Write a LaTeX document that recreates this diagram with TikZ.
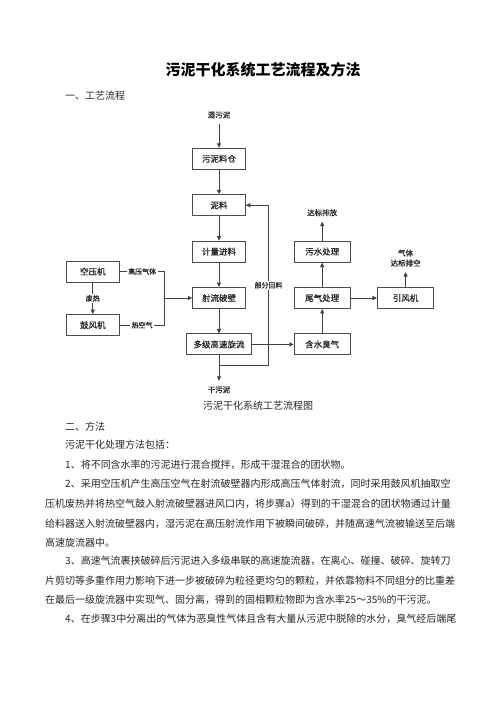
\documentclass[tikz,border=0pt]{standalone}
\usepackage{fontspec}
\setmainfont{Noto Sans CJK SC}
\newfontfamily\chartfont{Noto Sans CJK SC}[FakeBold=0.6]
\usetikzlibrary{positioning}
\usetikzlibrary{arrows.meta}

\tikzset{
  box/.style={draw=black!70, line width=0.9pt, fill=white, minimum width=52.6pt, minimum height=21pt,
    inner sep=0pt, font=\chartfont\fontsize{8.5pt}{10pt}\selectfont, text=black!85},
  lbl/.style={inner sep=1.5pt, font=\chartfont\fontsize{7pt}{8.5pt}\selectfont, text=black!85},
  term/.style={lbl, font=\chartfont\fontsize{7.5pt}{10pt}\selectfont, outer sep=4pt, align=center},
  arr/.style={draw=black!75, line width=0.9pt, -{Triangle[length=4.5pt,width=4pt]}},
  wire/.style={draw=black!75, line width=0.9pt},
  body/.style={anchor=west, inner sep=0pt, font=\fontsize{10pt}{12pt}\selectfont, text=black!85,
    text height=8.8pt, text depth=1.2pt},
}

\begin{document}
\begin{tikzpicture}[x=1pt, y=-1pt]
\useasboundingbox (0,0) rectangle (496,702);

\node[font=\fontsize{15pt}{18pt}\selectfont\bfseries] (title) at (263,70) {污泥干化系统工艺流程及方法};

% main line
\node[box] (silo) at (219,158.8) {污泥料仓};
\node[term, above=24pt of silo] (wet) {湿污泥};
\node[box, below=24.5pt of silo] (mix) {泥料};
\node[box, below=24.5pt of mix] (meter) {计量进料};
\node[box, below=24.5pt of meter] (jet) {射流破壁};
\node[box, below=24.5pt of jet, minimum width=65pt] (cyc) {多级高速旋流};
\node[term, below=25.5pt of cyc] (dry) {干污泥};

\draw[arr] (wet) -- (silo);
\draw[arr] (silo) -- (mix);
\draw[arr] (mix) -- (meter);
\draw[arr] (meter) -- (jet);
\draw[arr] (jet) -- (cyc);
\draw[arr] (cyc) -- (dry);

\coordinate[below=10pt of cyc] (ret-b);
\coordinate[right=49.5pt of ret-b] (ret-r);
\draw[arr] (ret-b) -- (ret-r) |- node[lbl, fill=white, pos=0.25] (back) {部分回料} (mix);

% air supply
\node[box, left=72.7pt of jet, yshift=26.5pt] (comp) {空压机};
\node[box, below=31.7pt of comp] (blower) {鼓风机};
\coordinate[left=27.5pt of jet] (merge);

\draw[arr] (comp) -- node[lbl, fill=white] (waste) {废热} (blower);
\draw[wire] (comp) -| node[lbl, fill=white, pos=0.25] (hp) {高压气体} (merge);
\draw[wire] (blower) -| node[lbl, fill=white, pos=0.25] (hot) {热空气} (merge);
\draw[arr] (merge) -- (jet);

% gas treatment
\node[box, right=48pt of jet, minimum width=56pt] (tail) {尾气处理};
\node[box, below=24.5pt of tail, minimum width=56pt] (odor) {含水臭气};
\node[box, above=24.5pt of tail, minimum width=56pt] (sewage) {污水处理};
\node[term, above=19pt of sewage] (disch) {达标排放};
\node[box, right=26.3pt of tail, minimum width=56.4pt] (fan) {引风机};
\node[term, above=15pt of fan] (vent) {气体\\达标排空};

\draw[arr] (cyc) -- (odor);
\draw[arr] (odor) -- (tail);
\draw[arr] (tail) -- (sewage);
\draw[arr] (sewage) -- (disch);
\draw[arr] (tail) -- (fan);
\draw[arr] (fan) -- (vent);

% page text
\foreach \y/\x/\t [count=\i] in {
  96/65/一、工艺流程,
  405.7/203/污泥干化系统工艺流程图,
  426.7/65/二、方法,
  445/65/污泥干化处理方法包括：,
  465/65/1、将不同含水率的污泥进行混合搅拌，形成干湿混合的团状物。,
  483.3/65/2、采用空压机产生高压空气在射流破壁器内形成高压气体射流，同时采用鼓风机抽取空,
  503.3/45/压机废热并将热空气鼓入射流破壁器进风口内，将步骤a）得到的干湿混合的团状物通过计量,
  523.3/45/给料器送入射流破壁器内，湿污泥在高压射流作用下被瞬间破碎，并随高速气流被输送至后端,
  542.3/45/高速旋流器中。,
  561/65/3、高速气流裹挟破碎后污泥进入多级串联的高速旋流器，在离心、碰撞、破碎、旋转刀,
  580.7/45/片剪切等多重作用力影响下进一步被破碎为粒径更均匀的颗粒，并依靠物料不同组分的比重差,
  600/45/在最后一级旋流器中实现气、固分离，得到的固相颗粒物即为含水率25～35\%的干污泥。,
  618.3/65/4、在步骤3中分离出的气体为恶臭性气体且含有大量从污泥中脱除的水分，臭气经后端尾}
  \node[body] (txt-\i) at (\x,\y) {\t};

\end{tikzpicture}
\end{document}
